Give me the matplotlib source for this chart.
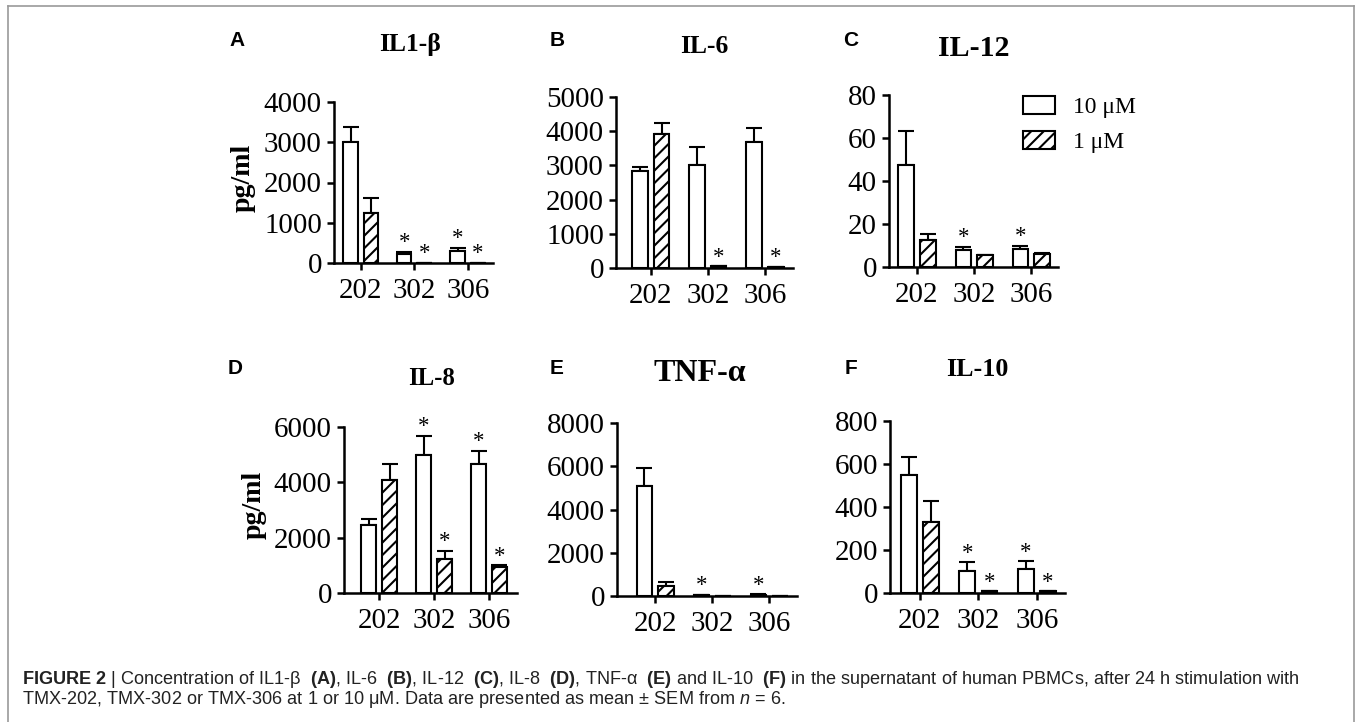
import matplotlib
matplotlib.use('Agg')
import matplotlib.pyplot as plt
from matplotlib.lines import Line2D
from matplotlib.patches import Patch
import numpy as np

# dados (media e SEM, pg/ml)
groups = ['202', '302', '306']
series_labels = ['10 μM', '1 μM']

# IL1-beta (A)
il1b_10 = [3000, 225, 300]
il1b_10_sem = [370, 50, 85]
il1b_1 = [1235, 10, 10]
il1b_1_sem = [375, 0, 0]
il1b_star_10 = [0, 1, 1]
il1b_star_1 = [0, 1, 1]
il1b_ticks = [0, 1000, 2000, 3000, 4000]

# IL-6 (B)
il6_10 = [2830, 3010, 3690]
il6_10_sem = [130, 540, 415]
il6_1 = [3915, 50, 30]
il6_1_sem = [320, 0, 0]
il6_star_10 = [0, 0, 0]
il6_star_1 = [0, 1, 1]
il6_ticks = [0, 1000, 2000, 3000, 4000, 5000]

# IL-12 (C)
il12_10 = [47.4, 8.0, 8.5]
il12_10_sem = [16.0, 1.3, 1.5]
il12_1 = [12.7, 5.5, 6.0]
il12_1_sem = [2.8, 0.3, 0.6]
il12_star_10 = [0, 1, 1]
il12_star_1 = [0, 0, 0]
il12_ticks = [0, 20, 40, 60, 80]

# IL-8 (D)
il8_10 = [2440, 4980, 4640]
il8_10_sem = [240, 675, 480]
il8_1 = [4060, 1230, 930]
il8_1_sem = [580, 280, 70]
il8_star_10 = [0, 1, 1]
il8_star_1 = [0, 1, 1]
il8_ticks = [0, 2000, 4000, 6000]

# TNF-alpha (E)
tnf_10 = [5090, 40, 60]
tnf_10_sem = [850, 10, 15]
tnf_1 = [460, 0, 10]
tnf_1_sem = [200, 0, 0]
tnf_star_10 = [0, 1, 1]
tnf_star_1 = [0, 0, 0]
tnf_ticks = [0, 2000, 4000, 6000, 8000]

# IL-10 (F)
il10_10 = [547, 103, 110]
il10_10_sem = [86, 39, 37]
il10_1 = [330, 8, 8]
il10_1_sem = [98, 0, 0]
il10_star_10 = [0, 1, 1]
il10_star_1 = [0, 1, 1]
il10_ticks = [0, 200, 400, 600, 800]

W_PX, H_PX, DPI = 1359, 722, 150
SERIF = 'Liberation Serif'
SANS = 'Liberation Sans'
LW = 1.0
BAR_W = 0.27
OFF = 0.19
HATCH = '////'

plt.rcParams['hatch.linewidth'] = 1.0
plt.rcParams['mathtext.fontset'] = 'custom'
plt.rcParams['mathtext.rm'] = SANS
plt.rcParams['mathtext.bf'] = SANS + ':bold'
plt.rcParams['mathtext.it'] = SANS + ':italic'


def fx(px):
    return px / W_PX


def fy(py):
    return 1 - py / H_PX


def draw_panel(ax, v10, e10, v1, e1, s10, s1, yticks, xlim):
    x = np.arange(len(groups))
    for pos, vals, errs, stars, hatch in [(x - OFF, v10, e10, s10, None),
                                          (x + OFF, v1, e1, s1, HATCH)]:
        ax.bar(pos, vals, BAR_W, color='white', edgecolor='black', linewidth=LW,
               hatch=hatch, zorder=2)
        ax.errorbar(pos, vals, yerr=[np.zeros(len(vals)), errs], fmt='none',
                    ecolor='black', elinewidth=LW, capsize=3.8, capthick=LW, zorder=1)
        for xi, v, e, s in zip(pos, vals, errs, stars):
            if s:
                ax.annotate('*', (xi, v + e), xytext=(0, 1.8), textcoords='offset points',
                            ha='center', va='baseline', fontsize=11, family=SERIF)
    ax.set_xlim(*xlim)
    ax.set_ylim(0, yticks[-1])
    ax.set_yticks(yticks)
    ax.set_xticks(x)
    ax.set_xticklabels(groups)
    for sp in ['top', 'right']:
        ax.spines[sp].set_visible(False)
    for sp in ['left', 'bottom']:
        ax.spines[sp].set_linewidth(1.2)
    ax.tick_params(axis='y', direction='out', length=3.4, width=1.2, pad=2.4)
    ax.tick_params(axis='x', direction='out', length=3.4, width=1.2, pad=3.8)
    for lab in ax.get_xticklabels() + ax.get_yticklabels():
        lab.set_family(SERIF)
        lab.set_fontsize(13.9)


fig = plt.figure(figsize=(W_PX / DPI, H_PX / DPI), dpi=DPI)

panels = [
    # letra, titulo, tamanho, (x, y) titulo, (x, y) letra, eixo em px, xlim, dados
    ('A', 'IL1-β', 12.3, (410, 51), (237, 40), (334, 493, 263, 102), (-0.5, 2.47),
     (il1b_10, il1b_10_sem, il1b_1, il1b_1_sem, il1b_star_10, il1b_star_1, il1b_ticks)),
    ('B', 'IL-6', 12.3, (704, 53), (557, 40), (616, 793, 268, 97), (-0.61, 2.49),
     (il6_10, il6_10_sem, il6_1, il6_1_sem, il6_star_10, il6_star_1, il6_ticks)),
    ('C', 'IL-12', 14.4, (974, 56), (851, 40), (889, 1058, 267, 95), (-0.49, 2.47),
     (il12_10, il12_10_sem, il12_1, il12_1_sem, il12_star_10, il12_star_1, il12_ticks)),
    ('D', 'IL-8', 11.9, (432, 385), (235, 368), (344, 517, 593, 426.5), (-0.64, 2.51),
     (il8_10, il8_10_sem, il8_1, il8_1_sem, il8_star_10, il8_star_1, il8_ticks)),
    ('E', 'TNF-α', 15.4, (700, 381), (557, 368), (617, 797, 596, 423), (-0.67, 2.49),
     (tnf_10, tnf_10_sem, tnf_1, tnf_1_sem, tnf_star_10, tnf_star_1, tnf_ticks)),
    ('F', 'IL-10', 12.5, (977, 376), (851, 369), (890, 1065, 593, 421), (-0.51, 2.48),
     (il10_10, il10_10_sem, il10_1, il10_1_sem, il10_star_10, il10_star_1, il10_ticks)),
]

for letter, title, tsize, tpos, lpos, (l, r, b, t), xlim, data in panels:
    ax = fig.add_axes([fx(l), fy(b), (r - l) / W_PX, (b - t) / H_PX])
    v10, e10, v1, e1, s10, s1, yticks = data
    draw_panel(ax, v10, e10, v1, e1, s10, s1, yticks, xlim)
    fig.text(fx(tpos[0]), fy(tpos[1]), title, ha='center', va='baseline',
             fontsize=tsize, fontweight='bold', family=SERIF)
    fig.text(fx(lpos[0]), fy(lpos[1]), letter, ha='center', va='center',
             fontsize=10, fontweight='bold', family=SANS)

# rotulo do eixo y so nos paineis A e D
fig.text(fx(243), fy(178), 'pg/ml', rotation=90, ha='center', va='center',
         fontsize=13.4, fontweight='bold', family=SERIF)
fig.text(fx(254), fy(505), 'pg/ml', rotation=90, ha='center', va='center',
         fontsize=13.4, fontweight='bold', family=SERIF)

handles = [Patch(facecolor='white', edgecolor='black', linewidth=LW),
           Patch(facecolor='white', edgecolor='black', linewidth=LW, hatch=HATCH)]
fig.legend(handles, series_labels, loc='upper left',
           bbox_to_anchor=(fx(1023), fy(96)), frameon=False, borderpad=0,
           borderaxespad=0, handlelength=1.36, handleheight=0.81,
           handletextpad=0.76, labelspacing=0.55,
           prop={'family': SERIF, 'size': 11.3})

# moldura cinza
border = dict(color='#9a9a9a', linewidth=0.8, transform=fig.transFigure)
fig.add_artist(Line2D([fx(8), fx(1354)], [fy(6), fy(6)], **border))
fig.add_artist(Line2D([fx(8), fx(8)], [fy(6), -0.01], **border))
fig.add_artist(Line2D([fx(1354), fx(1354)], [fy(6), -0.01], **border))

line1 = (r'$\mathbf{FIGURE\ 2}$ | Concentration of IL1-β  $\mathbf{(A)}$, IL-6  $\mathbf{(B)}$, '
         r'IL-12  $\mathbf{(C)}$, IL-8  $\mathbf{(D)}$, TNF-α  $\mathbf{(E)}$ and IL-10  '
         r'$\mathbf{(F)}$ in the supernatant of human PBMCs, after 24 h stimulation with')
line2 = (r'TMX-202, TMX-302 or TMX-306 at 1 or 10 μM. Data are presented as mean ± SEM '
         r'from $n$ = 6.')
fig.text(fx(22), fy(684), line1, va='baseline', ha='left', fontsize=8.7,
         family=SANS, color='#222222')
fig.text(fx(22), fy(704), line2, va='baseline', ha='left', fontsize=8.7,
         family=SANS, color='#222222')

fig.savefig('out.png', dpi=DPI)
